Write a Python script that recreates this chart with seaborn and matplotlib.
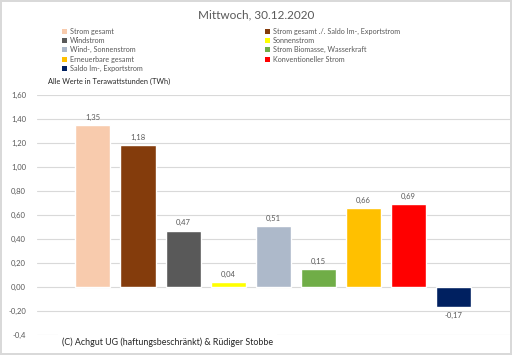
import matplotlib
matplotlib.use("Agg")
import matplotlib.pyplot as plt
import seaborn as sns
import pandas as pd
from matplotlib.patches import Patch

categories = ["Strom gesamt", "Strom gesamt ./. Saldo Im-, Exportstrom", "Windstrom",
              "Sonnenstrom", "Wind-, Sonnenstrom", "Strom Biomasse, Wasserkraft",
              "Erneuerbare gesamt", "Konventioneller Strom", "Saldo Im-, Exportstrom"]
values = [1.35, 1.18, 0.47, 0.04, 0.51, 0.15, 0.66, 0.69, -0.17]
colors = ["#F8CBAD", "#843C0C", "#595959", "#FFFF00", "#ADB9CA", "#70AD47",
          "#FFC000", "#FF0000", "#002060"]
yticks = [-0.4, -0.2, 0.0, 0.2, 0.4, 0.6, 0.8, 1.0, 1.2, 1.4, 1.6]
ytick_labels = ["-0,4", "-0,20", "0,00", "0,20", "0,40", "0,60", "0,80", "1,00", "1,20", "1,40", "1,60"]

sns.set_theme(style="white")
plt.rcParams['font.family'] = ['Lato', 'DejaVu Sans']

W, H = 512, 355
fig = plt.figure(figsize=(W / 100, H / 100), dpi=100)
fig.patch.set_facecolor("white")
fig.patch.set_edgecolor("#D9D9D9")
fig.patch.set_linewidth(1.5)

ax = fig.add_axes([37 / W, 1 - 335 / H, (510 - 37) / W, (335 - 95) / H])
df = pd.DataFrame({"cat": categories, "val": values})
sns.barplot(data=df, x="cat", y="val", hue="cat", palette=colors, order=categories,
            hue_order=categories, dodge=False, width=0.78, legend=False, ax=ax,
            saturation=1, zorder=3)
ax.set_xlim(-1.24, 9.25)
ax.set_ylim(-0.4, 1.6)
ax.set_yticks(yticks)
ax.set_yticklabels(ytick_labels, fontsize=5.5, color="#595959")
ax.set_xticks([])
ax.set_xlabel("")
ax.set_ylabel("")
for s in ax.spines.values():
    s.set_visible(False)
ax.yaxis.grid(True, color="#D9D9D9", linewidth=0.8, zorder=0)
ax.tick_params(axis="y", length=0, pad=8)
ax.set_facecolor("white")

for i, v in enumerate(values):
    lbl = f"{v:.2f}".replace(".", ",")
    if v >= 0:
        ax.text(i, v + 0.035, lbl, ha="center", va="bottom", fontsize=5.5, color="#595959")
    else:
        ax.text(i, v - 0.035, lbl, ha="center", va="top", fontsize=5.5, color="#595959")

fig.text(0.5, 1 - 15 / H, "Mittwoch, 30.12.2020", ha="center", va="center",
         fontsize=8.5, color="#595959")
fig.text(48 / W, 1 - 81 / H, "Alle Werte in Terawattstunden (TWh)", ha="left", va="center",
         fontsize=5.3, color="#262626")
fig.text(62 / W, 1 - 342 / H, "(C) Achgut UG (haftungsbeschränkt) & Rüdiger Stobbe",
         ha="left", va="center", fontsize=6.4, color="#262626",
         bbox=dict(facecolor="white", edgecolor="none", pad=3))

handles = [Patch(facecolor=c, edgecolor="none") for c in colors]
col1 = [0, 2, 4, 6, 8]
col2 = [1, 3, 5, 7]
for idx, x0 in ((col1, 62), (col2, 265)):
    leg = fig.legend([handles[i] for i in idx], [categories[i] for i in idx],
                     loc="upper left", bbox_to_anchor=(x0 / W, 1 - 28 / H),
                     frameon=False, fontsize=5.2, handlelength=0.7, handleheight=0.7,
                     handletextpad=0.35, labelspacing=0.3, borderpad=0, borderaxespad=0,
                     labelcolor="#595959")

fig.savefig("out.png", dpi=100, facecolor=fig.get_facecolor(), edgecolor=fig.get_edgecolor())
